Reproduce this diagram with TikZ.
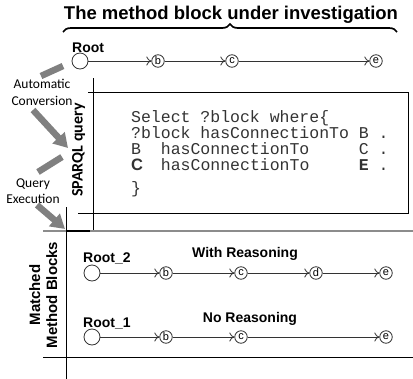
\documentclass[tikz,border=0pt]{standalone}
\usepackage{fontspec}
\setmainfont{Liberation Sans}
\newfontfamily\arialf{Liberation Sans}
\newfontfamily\calf{Carlito}
\newfontfamily\monof{Liberation Mono}
\usetikzlibrary{arrows.meta,decorations.pathreplacing}
\definecolor{linec}{HTML}{333333}
\definecolor{garrow}{HTML}{808080}
\definecolor{gline}{HTML}{8C8C8C}
\newcommand{\cboldsym}{\makebox[0.6em][l]{\arialf\bfseries C}}
\tikzset{
  rootc/.style={circle, draw=linec, line width=0.8bp, minimum size=16bp, inner sep=0pt},
  lc/.style={circle, draw=linec, line width=0.8bp, minimum size=12.5bp, inner sep=0pt,
    font=\arialf\fontsize{11bp}{12bp}\selectfont},
  conn/.style={draw=linec, line width=0.8bp, -{To[length=5bp,width=9bp]}},
  lbl/.style={font=\arialf\bfseries\fontsize{14bp}{16bp}\selectfont, inner sep=0pt},
  side/.style={font=\arialf\bfseries\fontsize{15bp}{17bp}\selectfont, inner sep=0pt, rotate=90, anchor=base},
  note/.style={font=\calf\fontsize{13.5bp}{15bp}\selectfont, inner sep=0pt, anchor=base},
  code/.style={font=\monof\fontsize{16.5bp}{18bp}\selectfont, text=linec, inner sep=0pt, anchor=base west},
  frame/.style={draw=black, line width=1bp},
  gstroke/.style={draw=garrow, line width=6.5bp},
  garr/.style={draw=garrow, line width=6.5bp, -{Triangle[length=14bp,width=16bp]}},
}
\begin{document}
\begin{tikzpicture}[x=1bp,y=-1bp]
\useasboundingbox (0,0) rectangle (413,379);

% title and brace
\node[font=\arialf\bfseries\fontsize{18.5bp}{20bp}\selectfont, anchor=base, inner sep=0pt] (title) at (231,19) {The method block under investigation};
\coordinate (brL) at (63,32);
\coordinate (brR) at (397,32);
\draw[decorate, decoration={brace, amplitude=8bp}, line width=1.7bp] (brL) -- (brR);

% frame lines
\draw[frame] (93,78) -- (93,231);
\draw[frame] (88,92) -- (408,92) -- (408,213) -- (78,213);
\draw[draw=gline, line width=1.5bp] (43,231) -- (413,231);
\draw[frame, line width=1.5bp] (66,231) -- (90,231);
\draw[frame] (66,207) -- (66,379);
\draw[frame] (43,357) -- (413,357);

% top chain
\node[rootc] (r0) at (80,61) {};
\node[lc] (b0) at (158,61) {b};
\node[lc] (c0) at (232,61) {c};
\node[lc] (e0) at (376,61) {e};
\draw[conn] (r0) -- (b0);
\draw[conn] (b0) -- (c0);
\draw[conn] (c0) -- (e0);
\node[lbl, anchor=base west] (rootlbl) at (72,52) {Root};

% side labels
\node[side, font=\calf\bfseries\fontsize{16bp}{18bp}\selectfont] (sq) at (82.5,150) {SPARQL query};
\node[side] (mt1) at (40,295) {Matched};
\node[side] (mt2) at (57,295) {Method Blocks};

% notes
\node[note] (ac1) at (42,88) {Automatic};
\node[note] (ac2) at (42,105) {Conversion};
\node[note] (qe1) at (33,187) {Query};
\node[note] (qe2) at (33,203) {Execution};

% gray arrows
\coordinate (g1a) at (63,66);
\coordinate (g1b) at (41,76);
\coordinate (g1c) at (33,110);
\coordinate (g1d) at (68,148);
\coordinate (g2a) at (62,157);
\coordinate (g2b) at (38,172);
\coordinate (g2c) at (37,205);
\coordinate (g2d) at (65,229);
\draw[gstroke] (g1a) -- (g1b);
\draw[garr] (g1c) -- (g1d);
\draw[gstroke] (g2a) -- (g2b);
\draw[garr] (g2c) -- (g2d);

% SPARQL code
\node[code] (q1) at (131,122) {Select~?block~where\{};
\node[code] (q2) at (131,138) {?block~hasConnectionTo~B~.};
\node[code] (q3) at (131,154) {B~~hasConnectionTo~~~~~C~.};
\node[code] (q4) at (131,170) {\cboldsym~~hasConnectionTo~~~~~\textbf{E}~.};
\node[code] (q5) at (131,193) {\}};

% with reasoning chain
\node[rootc] (r2) at (92,273) {};
\node[lc] (b2) at (166,273) {b};
\node[lc] (c2) at (241,273) {c};
\node[lc] (d2) at (316,273) {d};
\node[lc] (e2) at (386,273) {e};
\draw[conn] (r2) -- (b2);
\draw[conn] (b2) -- (c2);
\draw[conn] (c2) -- (d2);
\draw[conn] (d2) -- (e2);
\node[lbl, anchor=base west] (r2lbl) at (83,262) {Root\_2};
\node[lbl, anchor=base] (wr) at (245,257) {With Reasoning};

% no reasoning chain
\node[rootc] (r1) at (92,337) {};
\node[lc] (b1) at (166,337) {b};
\node[lc] (c1) at (241,337) {c};
\node[lc] (e1) at (386,337) {e};
\draw[conn] (r1) -- (b1);
\draw[conn] (b1) -- (c1);
\draw[conn] (c1) -- (e1);
\node[lbl, anchor=base west] (r1lbl) at (83,327) {Root\_1};
\node[lbl, anchor=base] (nr) at (250,322) {No Reasoning};
\end{tikzpicture}
\end{document}
